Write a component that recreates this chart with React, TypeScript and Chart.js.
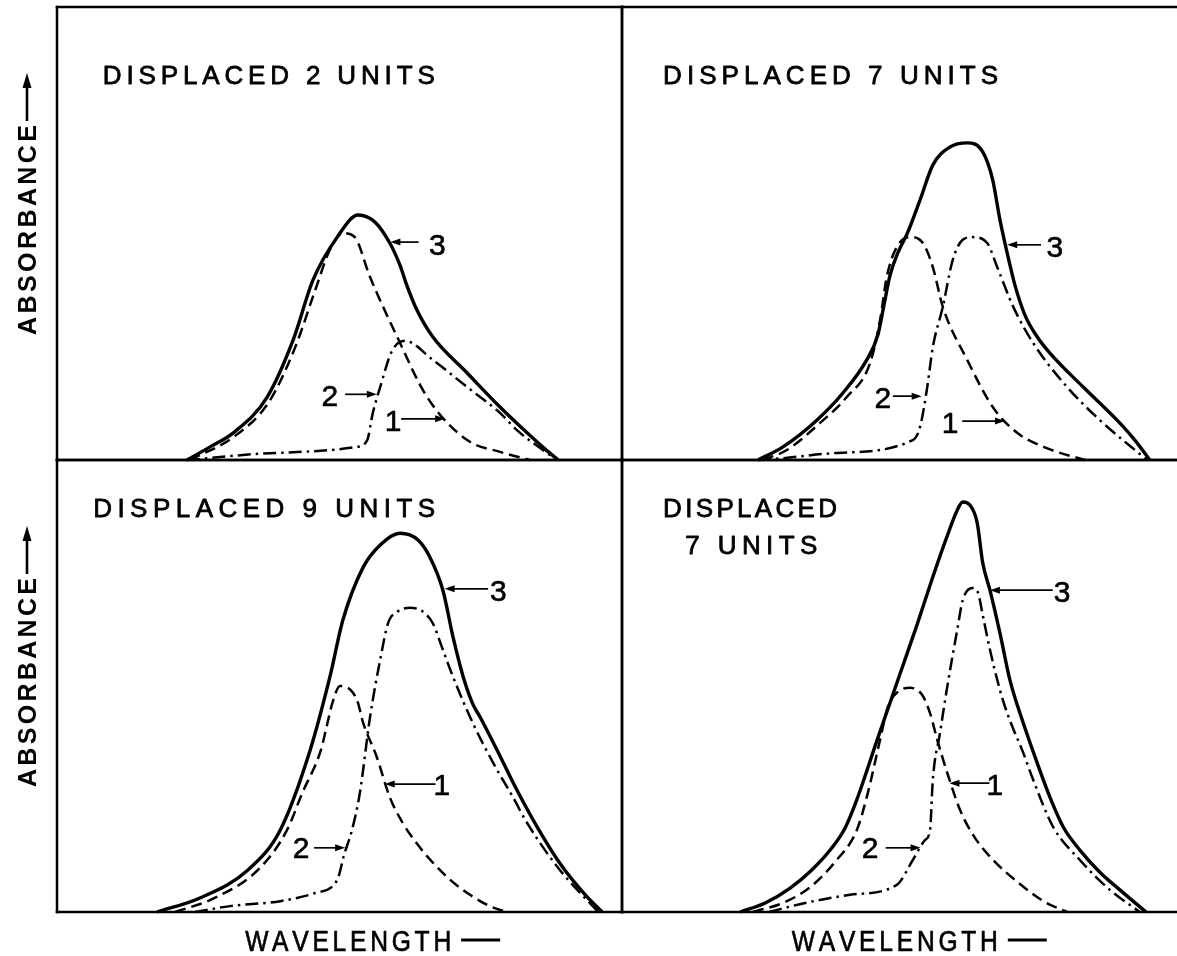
import React, { useEffect, useRef } from "react";
import { Chart, registerables } from "chart.js";

Chart.register(...registerables);

// ---------- Data (wavelength 0-100 across a panel, absorbance 0-100 up a panel) ----------
// Panel A: displaced 2 units
const A_WL_1 = [23.5, 31.5, 37.5, 42.1, 45.7, 48.3, 50.6, 52.7, 55.4, 60.2, 65.5, 72.6, 78.4, 83.7];
const A_ABS_1 = [0, 5.3, 12.8, 24.7, 37.5, 46.4, 50.1, 49.2, 40.4, 27.2, 13.9, 4.4, 1.8, 0];
const A_WL_2 = [23.0, 37.7, 53.1, 54.9, 55.9, 57.2, 59.3, 61.6, 66.5, 72.6, 78.4, 81.4, 86.0, 88.5];
const A_ABS_2 = [0, 1.5, 2.9, 4.4, 10.4, 16.1, 24.1, 26.3, 22.1, 16.1, 10.4, 6.6, 2.2, 0];
const A_WL_3 = [23.0, 27.1, 31.2, 37.2, 41.8, 45.3, 49.6, 53.3, 56.3, 58.9, 60.7, 61.9, 63.7, 66.5, 72.6, 78.4, 83.2, 86.4, 88.7];
const A_ABS_3 = [0, 2.9, 6.0, 13.9, 26.5, 39.7, 49.2, 54.1, 52.5, 47.9, 43.0, 38.6, 33.1, 27.2, 19.2, 11.7, 6.0, 2.4, 0];

// Panel B: displaced 7 units
const B_WL_1 = [25.4, 29.7, 35.7, 40.5, 44.7, 46.5, 47.7, 49.5, 51.9, 54.2, 56.0, 57.8, 62.2, 66.8, 71.2, 77.0, 83.4];
const B_ABS_1 = [0, 2.2, 8.2, 13.9, 21.4, 30.9, 40.4, 47.0, 49.2, 47.9, 42.6, 33.8, 22.1, 11.7, 6.0, 2.4, 0];
const B_WL_2 = [24.5, 29.0, 38.0, 52.4, 53.7, 55.0, 56.0, 57.8, 59.6, 61.4, 63.2, 65.8, 67.6, 70.5, 74.1, 80.2, 86.1, 94.6];
const B_ABS_2 = [0, 0.4, 1.5, 4.4, 7.3, 16.1, 24.9, 33.8, 44.2, 48.6, 49.2, 47.9, 42.6, 33.8, 25.8, 16.1, 8.8, 0];
const B_WL_3 = [24.5, 29.0, 35.1, 39.8, 44.1, 46.1, 47.2, 48.3, 49.7, 51.5, 53.7, 56.0, 59.1, 62.2, 65.0, 66.8, 68.1, 69.4, 70.8, 72.6, 74.8, 77.1, 83.1, 89.2, 92.4, 95.1];
const B_ABS_3 = [0, 2.9, 8.8, 14.8, 22.1, 27.6, 34.2, 40.8, 45.7, 50.3, 57.4, 65.1, 69.1, 70.0, 68.0, 61.8, 53.0, 45.7, 38.6, 32.0, 27.2, 23.6, 16.1, 8.8, 4.4, 0];

// Panel C: displaced 9 units
const C_WL_1 = [20.9, 27.9, 35.9, 40.7, 43.4, 46.7, 47.7, 48.8, 50.1, 53.1, 54.2, 56.6, 58.9, 61.2, 63.9, 66.4, 69.6, 73.1, 76.6, 79.6];
const C_ABS_1 = [0, 3.1, 9.7, 18.1, 26.3, 35.8, 40.9, 46.5, 50.0, 46.9, 41.8, 34.3, 25.4, 19.7, 14.8, 11.1, 7.1, 3.8, 1.3, 0];
const C_WL_2 = [24.4, 30.6, 39.5, 45.7, 49.6, 50.8, 52.2, 53.6, 55.4, 57.2, 58.6, 60.2, 62.5, 64.8, 66.5, 68.3, 70.1, 73.6, 77.2, 80.7, 83.2, 89.0, 95.8];
const C_ABS_2 = [0, 1.3, 2.4, 4.2, 7.1, 12.6, 18.1, 26.3, 43.1, 55.8, 63.9, 66.4, 67.3, 66.4, 63.9, 58.0, 52.0, 41.8, 33.0, 25.4, 19.7, 9.3, 0];
const C_WL_3 = [17.7, 25.3, 33.8, 39.5, 44.8, 48.3, 50.6, 54.2, 57.2, 60.7, 63.9, 66.0, 68.3, 70.1, 71.9, 73.6, 74.9, 77.9, 81.4, 85.0, 89.0, 93.5, 96.5];
const C_ABS_3 = [0, 3.1, 9.3, 18.1, 35.8, 52.0, 64.6, 76.3, 81.2, 83.8, 82.3, 78.5, 71.2, 60.8, 52.0, 46.0, 43.1, 35.8, 27.0, 18.8, 10.8, 3.8, 0];

// Panel D: displaced 7 units (second case)
const D_WL_1 = [23.6, 29.4, 34.2, 38.4, 42.3, 44.1, 46.5, 47.9, 49.7, 51.9, 54.1, 55.5, 56.8, 58.6, 60.9, 63.6, 67.2, 71.7, 76.2, 80.2];
const D_ABS_1 = [0, 2.2, 5.8, 11.1, 18.1, 25.4, 38.1, 45.4, 48.7, 49.6, 48.0, 44.0, 38.1, 30.8, 22.6, 16.4, 11.1, 6.2, 2.2, 0];
const D_WL_2 = [26.5, 33.0, 41.1, 49.5, 52.4, 54.6, 55.5, 56.0, 57.3, 58.6, 60.4, 61.4, 63.1, 64.1, 65.0, 66.3, 68.1, 69.4, 72.3, 74.1, 77.7, 82.5, 87.9, 93.3];
const D_ABS_2 = [0, 2.0, 3.8, 6.0, 11.5, 15.9, 18.1, 29.2, 39.6, 49.8, 62.4, 69.0, 71.7, 70.8, 65.7, 58.0, 49.1, 44.0, 35.2, 29.2, 18.8, 11.5, 4.9, 0];
const D_WL_3 = [21.3, 25.8, 30.3, 34.2, 37.5, 40.2, 42.3, 45.9, 50.1, 53.2, 56.0, 58.6, 60.4, 61.4, 62.7, 64.0, 65.0, 66.3, 68.1, 69.9, 72.3, 74.8, 77.1, 79.5, 82.5, 86.1, 89.7, 94.4];
const D_ABS_3 = [0, 2.0, 5.3, 9.3, 13.7, 18.6, 24.8, 37.8, 52.7, 63.7, 74.1, 83.2, 88.9, 90.7, 90.0, 86.1, 77.2, 71.2, 61.7, 51.3, 41.8, 33.0, 25.4, 18.8, 13.7, 8.8, 4.9, 0];

// Panel titles
const TITLE_A = ["DISPLACED 2 UNITS"];
const TITLE_B = ["DISPLACED 7 UNITS"];
const TITLE_C = ["DISPLACED 9 UNITS"];
const TITLE_D = ["DISPLACED", "7 UNITS"];

// Curve labels: text, label x, label y, arrow from x, arrow to x, arrow y (data units)
const LABELS_A = [
  ["3", 67.3, 47.5, 64.0, 59.0, 48.1],
  ["2", 48.3, 14.3, 51.0, 56.6, 14.5],
  ["1", 59.5, 8.8, 60.9, 68.7, 9.1],
];
const LABELS_B = [
  ["3", 78.0, 47.2, 75.5, 69.4, 47.5],
  ["2", 47.0, 13.9, 48.8, 54.0, 14.1],
  ["1", 59.1, 8.2, 61.3, 69.0, 8.6],
];
const LABELS_C = [
  ["3", 78.1, 71.2, 76.3, 68.6, 71.5],
  ["1", 68.1, 28.1, 67.0, 58.0, 28.3],
  ["2", 43.2, 14.2, 45.5, 51.0, 14.2],
];
const LABELS_D = [
  ["3", 79.3, 70.8, 77.6, 66.3, 71.2],
  ["1", 67.2, 28.1, 66.2, 59.0, 28.5],
  ["2", 44.7, 14.2, 47.5, 53.8, 14.2],
];

const Y_AXIS_LABEL = "ABSORBANCE";
const X_AXIS_LABEL = "WAVELENGTH";

const FONT = '"Liberation Sans", Arial, Helvetica, sans-serif';

function pts(xs: number[], ys: number[]) {
  return xs.map((x, i) => ({ x, y: ys[i] }));
}

function spaced(ctx: CanvasRenderingContext2D, text: string, x: number, y: number, width: number, thick = 0) {
  const chars = Array.from(text);
  const ws = chars.map((c) => ctx.measureText(c).width);
  const total = ws.reduce((a, b) => a + b, 0);
  const gap = chars.length > 1 ? (width - total) / (chars.length - 1) : 0;
  let cx = x;
  chars.forEach((c, i) => {
    ctx.fillText(c, cx, y);
    if (thick > 0) {
      ctx.lineWidth = thick;
      ctx.strokeText(c, cx, y);
    }
    cx += ws[i] + gap;
  });
}

const decorPlugin = {
  id: "decor",
  afterDatasetsDraw(chart: any, _args: any, o: any) {
    const { ctx, chartArea: a, scales } = chart;
    const px = (v: number) => scales.x.getPixelForValue(v);
    const py = (v: number) => scales.y.getPixelForValue(v);
    ctx.save();
    ctx.strokeStyle = "#000";
    ctx.fillStyle = "#000";
    ctx.setLineDash([]);
    ctx.lineCap = "square";
    ctx.lineJoin = "round";
    ctx.lineWidth = 2.5;
    const line = (x1: number, y1: number, x2: number, y2: number) => {
      ctx.beginPath();
      ctx.moveTo(x1, y1);
      ctx.lineTo(x2, y2);
      ctx.stroke();
    };
    if (o.sides.includes("l")) line(a.left, a.top, a.left, a.bottom);
    if (o.sides.includes("t")) line(a.left, a.top, a.right, a.top);
    if (o.sides.includes("r")) line(a.right, a.top, a.right, a.bottom);
    if (o.sides.includes("b")) line(a.left, a.bottom, a.right, a.bottom);

    // titles
    ctx.font = `26px ${FONT}`;
    ctx.textAlign = "left";
    ctx.textBaseline = "alphabetic";
    o.title.forEach((t: string, i: number) => {
      const tp = o.titlePos[i];
      spaced(ctx, t, px(tp[0]), py(tp[1]) + 9.5, tp[2], 0.8);
    });

    // curve labels with arrows
    ctx.font = `30px ${FONT}`;
    ctx.textAlign = "center";
    ctx.lineCap = "butt";
    o.labels.forEach((l: any[]) => {
      const [txt, lx, ly, ax1, ax2, ay] = l;
      ctx.fillText(txt, px(lx), py(ly) + 10.5);
      ctx.lineWidth = 0.6;
      ctx.strokeText(txt, px(lx), py(ly) + 10.5);
      const x1 = px(ax1), x2 = px(ax2), y = py(ay);
      const dir = x2 > x1 ? 1 : -1;
      ctx.lineWidth = 1.7;
      line(x1, y, x2 - dir * 6, y);
      ctx.beginPath();
      ctx.moveTo(x2, y);
      ctx.lineTo(x2 - dir * 10, y - 3.5);
      ctx.lineTo(x2 - dir * 10, y + 3.5);
      ctx.closePath();
      ctx.fill();
    });

    // y axis label (rotated) with up arrow
    if (o.yLabel) {
      const cx = a.left - 30;
      const textBottom = a.bottom - 125;
      const textTop = a.top + 118;
      ctx.save();
      ctx.font = `bold 25px ${FONT}`;
      ctx.textAlign = "left";
      ctx.translate(cx, textBottom);
      ctx.rotate(-Math.PI / 2);
      spaced(ctx, Y_AXIS_LABEL, 0, 9, textBottom - textTop);
      ctx.restore();
      ctx.lineWidth = 2.6;
      ctx.lineCap = "butt";
      const tip = a.top + 66;
      line(cx, textTop - 4, cx, tip + 10);
      ctx.beginPath();
      ctx.moveTo(cx, tip);
      ctx.lineTo(cx - 4.5, tip + 15);
      ctx.lineTo(cx + 4.5, tip + 15);
      ctx.closePath();
      ctx.fill();
    }

    // x axis label with dash (narrow lettering)
    if (o.xLabel) {
      const x0 = px(o.xLabelStart);
      const cy = a.bottom + 28;
      ctx.save();
      ctx.font = `30px ${FONT}`;
      ctx.textAlign = "left";
      ctx.translate(x0, cy + 11);
      ctx.scale(0.82, 1);
      spaced(ctx, X_AXIS_LABEL, 0, 0, 206 / 0.82, 0.7);
      ctx.restore();
      ctx.lineWidth = 2.8;
      ctx.lineCap = "butt";
      line(x0 + 216, cy, x0 + 255, cy);
    }
    ctx.restore();
  },
};

function datasets(w1: number[], a1: number[], w2: number[], a2: number[], w3: number[], a3: number[]) {
  const base = {
    borderColor: "#000",
    pointRadius: 0,
    cubicInterpolationMode: "monotone" as const,
    fill: false,
    clip: false as any,
  };
  return [
    { ...base, label: "1", data: pts(w1, a1), borderWidth: 2.5, borderDash: [11, 6] },
    { ...base, label: "2", data: pts(w2, a2), borderWidth: 2.5, borderDash: [13, 5, 2.5, 5] },
    { ...base, label: "3", data: pts(w3, a3), borderWidth: 3.4 },
  ];
}

type PanelProps = {
  left: number;
  top: number;
  width: number;
  height: number;
  padding: { left: number; top: number; right: number; bottom: number };
  ds: any[];
  decor: any;
};

function Panel(p: PanelProps) {
  const ref = useRef<HTMLCanvasElement | null>(null);
  useEffect(() => {
    if (!ref.current) return;
    const chart = new Chart(ref.current, {
      type: "line",
      data: { datasets: p.ds },
      options: {
        responsive: false,
        animation: false,
        devicePixelRatio: 1,
        layout: { padding: p.padding },
        scales: {
          x: { type: "linear", min: 0, max: 100, display: false },
          y: { type: "linear", min: 0, max: 100, display: false },
        },
        plugins: {
          legend: { display: false },
          tooltip: { enabled: false },
          decor: p.decor,
        } as any,
      },
      plugins: [decorPlugin as any],
    });
    return () => chart.destroy();
  }, []);
  return (
    <canvas
      ref={ref}
      width={p.width}
      height={p.height}
      style={{ position: "absolute", left: p.left, top: p.top, width: p.width, height: p.height }}
    />
  );
}

export default function App() {
  return (
    <div style={{ position: "absolute", left: 0, top: 0, width: 1177, height: 956, background: "#fff", overflow: "hidden" }}>
      <Panel
        left={0}
        top={0}
        width={625}
        height={463}
        padding={{ left: 57, top: 7, right: 3, bottom: 3 }}
        ds={datasets(A_WL_1, A_ABS_1, A_WL_2, A_ABS_2, A_WL_3, A_ABS_3)}
        decor={{ sides: "ltrb", title: TITLE_A, titlePos: [[8.1, 85.0, 332]], labels: LABELS_A, yLabel: true }}
      />
      <Panel
        left={619}
        top={0}
        width={558}
        height={463}
        padding={{ left: 3, top: 7, right: 0, bottom: 3 }}
        ds={datasets(B_WL_1, B_ABS_1, B_WL_2, B_ABS_2, B_WL_3, B_ABS_3)}
        decor={{ sides: "ltb", title: TITLE_B, titlePos: [[7.4, 85.0, 335]], labels: LABELS_B }}
      />
      <Panel
        left={0}
        top={457}
        width={625}
        height={499}
        padding={{ left: 57, top: 3, right: 3, bottom: 44 }}
        ds={datasets(C_WL_1, C_ABS_1, C_WL_2, C_ABS_2, C_WL_3, C_ABS_3)}
        decor={{ sides: "ltrb", title: TITLE_C, titlePos: [[6.4, 89.6, 342]], labels: LABELS_C, yLabel: true, xLabel: true, xLabelStart: 33.3 }}
      />
      <Panel
        left={619}
        top={457}
        width={558}
        height={499}
        padding={{ left: 3, top: 3, right: 0, bottom: 44 }}
        ds={datasets(D_WL_1, D_ABS_1, D_WL_2, D_ABS_2, D_WL_3, D_ABS_3)}
        decor={{ sides: "ltb", title: TITLE_D, titlePos: [[7.4, 89.6, 174], [11.4, 81.2, 132]], labels: LABELS_D, xLabel: true, xLabelStart: 30.6 }}
      />
    </div>
  );
}
